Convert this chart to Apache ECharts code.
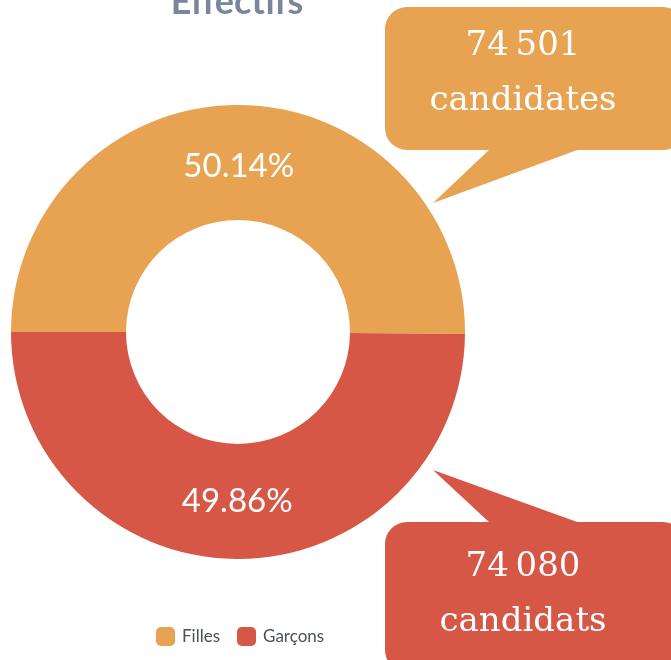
<!DOCTYPE html>
<html>
<head>
<meta charset="utf-8">
<script src="https://cdn.jsdelivr.net/npm/echarts@6/dist/echarts.min.js"></script>
<style>
  html, body { margin: 0; padding: 0; background: #fff; }
  #chart { width: 671px; height: 660px; }
</style>
</head>
<body>
<div id="chart"></div>
<script>
// data
var categories = ['Filles', 'Garçons'];
var counts = [74501, 74080];
var percentLabels = ['50.14%', '49.86%'];
var calloutWords = ['candidates', 'candidats'];
var colors = ['#E8A352', '#D65745'];

// séparateur de milliers à la française (espace fine insécable)
function fmt(n) {
  return String(n).replace(/\B(?=(\d{3})+(?!\d))/g, '\u202f');
}

var chart = echarts.init(document.getElementById('chart'));

// bulle de texte (rectangle arrondi + pointe)
function bubble(x, y, w, h, tail, color, lines, cy) {
  return {
    type: 'group',
    children: [
      {
        type: 'polygon',
        shape: { points: tail },
        style: { fill: color }
      },
      {
        type: 'rect',
        shape: { x: x, y: y, width: w, height: h, r: 22 },
        style: { fill: color }
      },
      {
        type: 'text',
        x: 523,
        y: cy,
        style: {
          text: lines.join('\n'),
          fill: '#fff',
          font: '34px "DejaVu Serif"',
          lineHeight: 55,
          align: 'center',
          verticalAlign: 'middle'
        }
      }
    ]
  };
}

var option = {
  backgroundColor: '#fff',
  color: colors,
  title: {
    text: 'Effectifs',
    left: 232,
    textAlign: 'center',
    top: -21,
    textStyle: {
      fontFamily: 'Lato',
      fontWeight: 'bold',
      fontSize: 36,
      color: '#7B869C'
    }
  },
  legend: {
    left: 151,
    top: 622,
    itemWidth: 19,
    itemHeight: 19,
    itemGap: 17,
    icon: 'roundRect',
    textStyle: { fontFamily: 'Lato', fontSize: 17, color: '#4A4F5A', padding: [0, 0, 0, 2] },
    data: categories
  },
  series: [
    {
      type: 'pie',
      center: [238, 332],
      radius: [112, 227],
      startAngle: 180,
      clockwise: true,
      silent: true,
      label: {
        position: 'inside',
        formatter: function (p) { return percentLabels[p.dataIndex]; },
        color: '#fff',
        fontFamily: 'Lato',
        fontSize: 33
      },
      labelLayout: function (p) {
        return { dy: p.dataIndex === 0 ? 7 : -3 };
      },
      labelLine: { show: false },
      data: categories.map(function (c, i) {
        return { name: c, value: counts[i] };
      })
    }
  ],
  graphic: [
    bubble(385, 7, 300, 143, [[490, 149], [580, 149], [433, 203]], colors[0],
      [fmt(counts[0]), calloutWords[0]], 74),
    bubble(385, 522, 300, 150, [[490, 523], [580, 523], [433, 470]], colors[1],
      [fmt(counts[1]), calloutWords[1]], 595)
  ]
};

chart.setOption(option);
</script>
</body>
</html>
